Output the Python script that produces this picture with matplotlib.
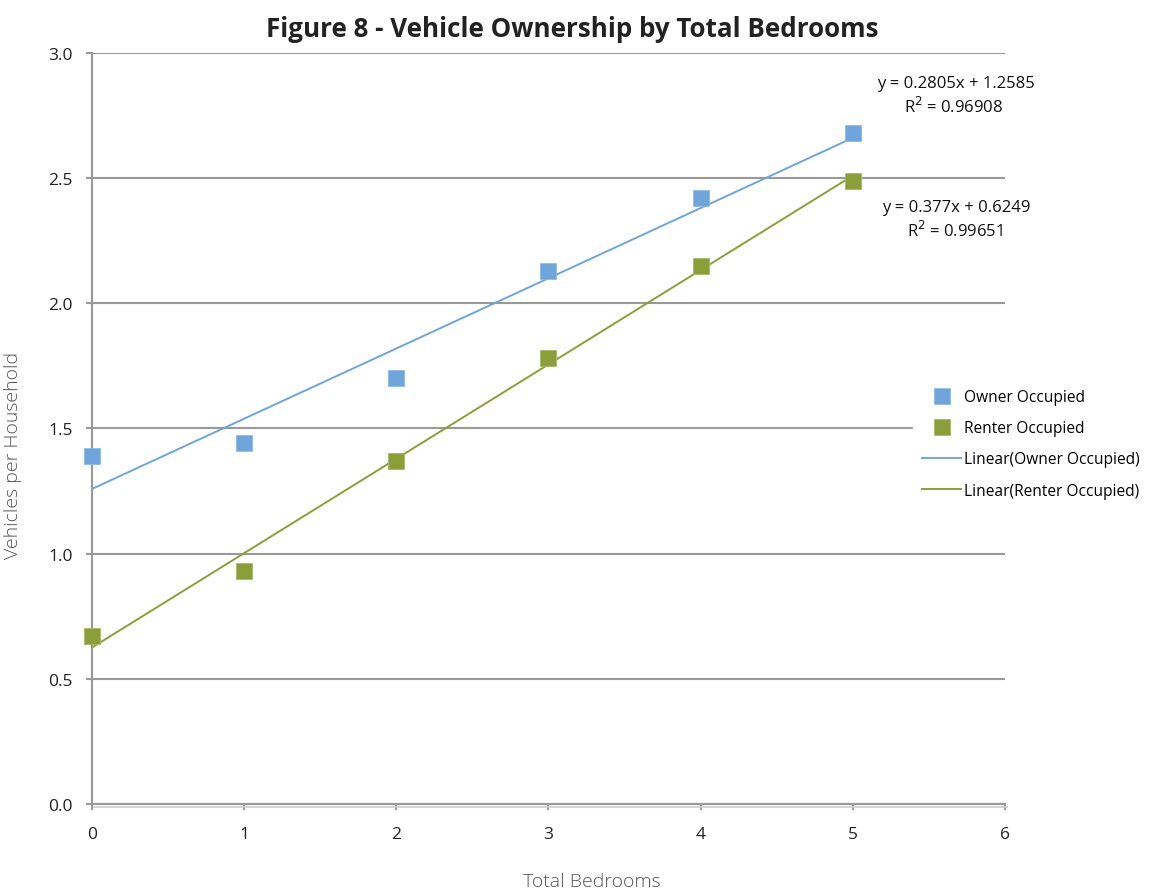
import matplotlib.pyplot as plt
import matplotlib.patheffects as pe
import numpy as np

bedrooms = [0, 1, 2, 3, 4, 5]
owner = [1.39, 1.44, 1.70, 2.13, 2.42, 2.68]
renter = [0.67, 0.93, 1.37, 1.78, 2.15, 2.49]

# trendline coefficients (slope, intercept, R^2) as printed on the chart
owner_fit = (0.2805, 1.2585, 0.96908)
renter_fit = (0.377, 0.6249, 0.99651)

azul = "#6fa5da"
verde = "#8a9f3a"
gris = "#999999"

plt.rcParams['font.family'] = ['Open Sans', 'DejaVu Sans']

fig = plt.figure(figsize=(11.53, 8.95), dpi=100)
ax = fig.add_axes([0.0798, 0.1006, 0.7918, 0.8391])

x = np.array(bedrooms, dtype=float)
xl = np.array([x.min(), x.max()])

# lineas de tendencia
ax.plot(xl, owner_fit[0] * xl + owner_fit[1], color=azul, lw=1.4,
        label="Linear(Owner Occupied)", zorder=3)
ax.plot(xl, renter_fit[0] * xl + renter_fit[1], color=verde, lw=1.4,
        label="Linear(Renter Occupied)", zorder=3)

# puntos
ax.plot(x, owner, ls="none", marker="s", ms=11, color=azul, mec="#8fbbe6", mew=0.6,
        label="Owner Occupied", zorder=4, clip_on=False)
ax.plot(x, renter, ls="none", marker="s", ms=11, color=verde, mec="#a7b86a", mew=0.6,
        label="Renter Occupied", zorder=4, clip_on=False)

ax.set_xlim(0, 6)
ax.set_ylim(0, 3.0)
ax.set_xticks(range(0, 7))
ax.set_yticks(np.arange(0, 3.01, 0.5))
ax.set_yticklabels([f"{v:.1f}" for v in np.arange(0, 3.01, 0.5)])

ax.grid(axis="y", color=gris, lw=1.5)
ax.set_axisbelow(True)
for s in ["top", "right"]:
    ax.spines[s].set_visible(False)
for s in ["left", "bottom"]:
    ax.spines[s].set_color(gris)
    ax.spines[s].set_linewidth(1.5)
ax.spines["bottom"].set_path_effects([pe.SimpleLineShadow(offset=(1.5, -2), shadow_color="#cccccc", alpha=0.8),
                                      pe.Normal()])

ax.tick_params(axis="x", direction="out", length=4, width=1.5, color=gris,
               labelsize=12.5, pad=12, labelcolor="#222222")
ax.tick_params(axis="y", direction="out", length=4, width=1.5, color=gris,
               labelsize=12.5, pad=10, labelcolor="#222222")

ax.set_xlabel("Total Bedrooms", fontsize=14, color="#555555", fontweight="light")
ax.xaxis.set_label_coords(0.547, -0.090)
ax.set_ylabel("Vehicles per Household", fontsize=14, color="#555555", fontweight="light")
ax.yaxis.set_label_coords(-0.077, 0.466)

fig.suptitle("Figure 8 - Vehicle Ownership by Total Bedrooms", fontsize=18.7, fontweight="bold",
             x=0.496, y=0.982, color="#222222")

# ecuaciones
for fit, ytop in [(owner_fit, 0.906), (renter_fit, 0.768)]:
    fig.text(0.829, ytop, f"y = {fit[0]}x + {fit[1]}", fontsize=12, ha="center",
             va="center", color="#111111")
    fig.text(0.870, ytop - 0.026, f"R$^2$ = {fit[2]}", fontsize=12, ha="right",
             va="center", color="#111111")

handles, labels = ax.get_legend_handles_labels()
order = [2, 3, 0, 1]
leg = fig.legend([handles[i] for i in order], [labels[i] for i in order],
                 loc="center left", bbox_to_anchor=(0.785, 0.503), frameon=True,
                 fontsize=11.2, handlelength=2.5, handletextpad=0.2, labelspacing=0.98,
                 borderpad=0.6)
leg.get_frame().set_edgecolor("white")
leg.get_frame().set_facecolor("white")
leg.get_frame().set_alpha(1)

fig.savefig("out.png", dpi=100)
